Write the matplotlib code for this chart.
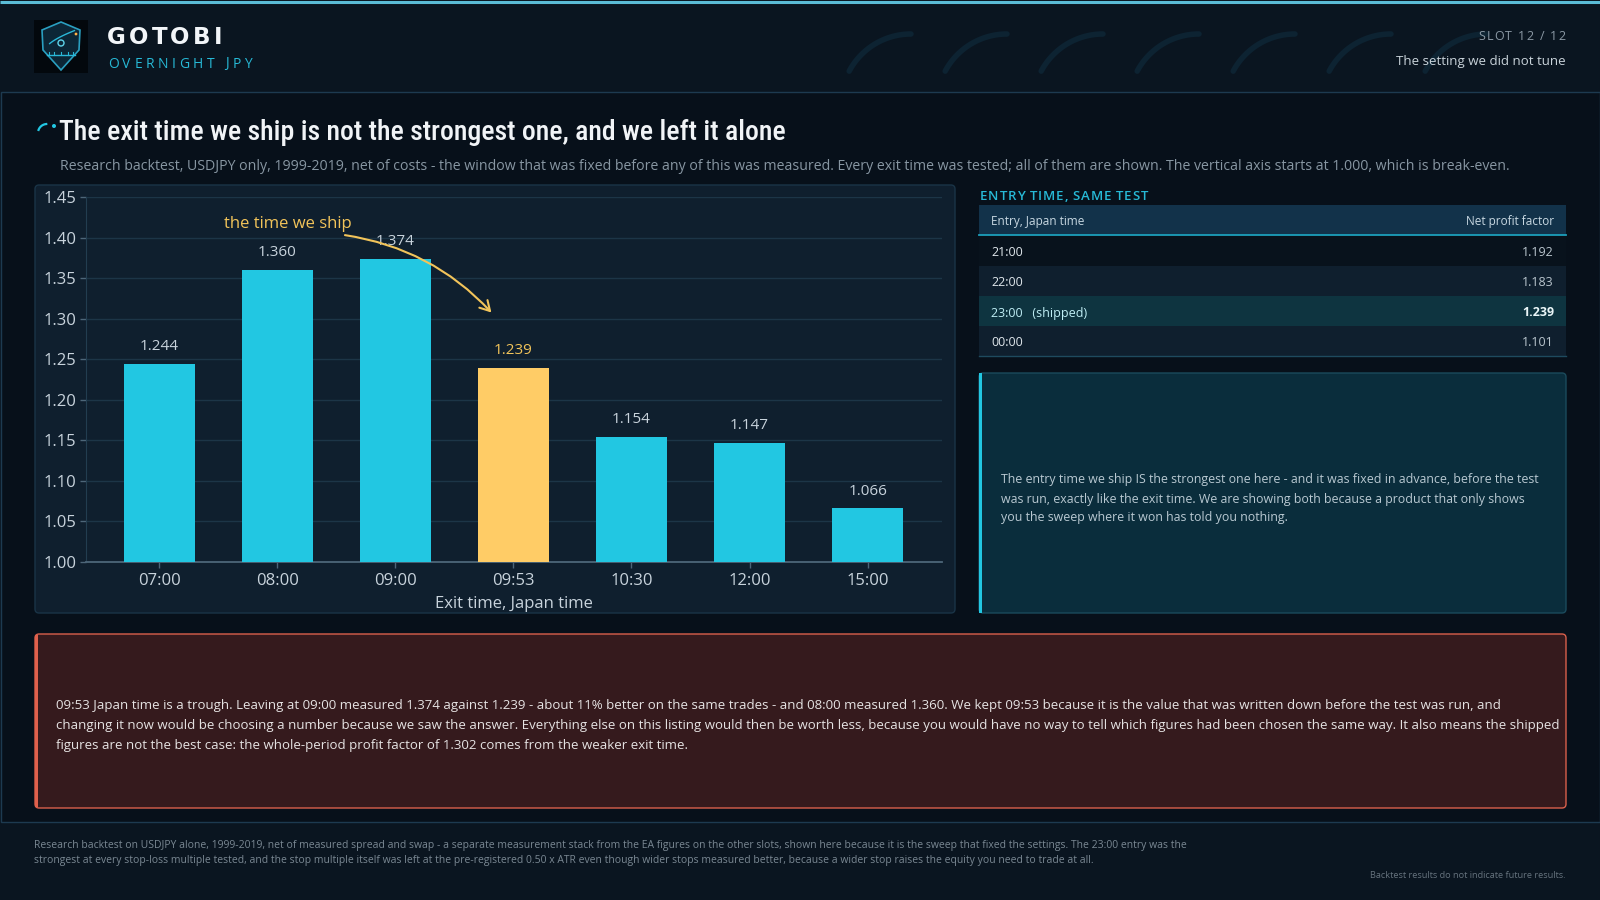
import numpy as np
import matplotlib
matplotlib.use("Agg")
import matplotlib.pyplot as plt
from matplotlib import font_manager as fm
from matplotlib.patches import Rectangle, FancyBboxPatch, FancyArrowPatch, Polygon, Circle

# ---------------- data ----------------
exit_times = ["07:00", "08:00", "09:00", "09:53", "10:30", "12:00", "15:00"]
exit_pf = [1.244, 1.360, 1.374, 1.239, 1.154, 1.147, 1.066]
shipped_exit = "09:53"

entry_times = ["21:00", "22:00", "23:00", "00:00"]
entry_pf = [1.192, 1.183, 1.239, 1.101]
shipped_entry = "23:00"

y_ticks = [1.00, 1.05, 1.10, 1.15, 1.20, 1.25, 1.30, 1.35, 1.40, 1.45]
y_tick_labels = ["1.00", "1.05", "1.10", "1.15", "1.20", "1.25", "1.30", "1.35", "1.40", "1.45"]

title = "The exit time we ship is not the strongest one, and we left it alone"
subtitle = ("Research backtest, USDJPY only, 1999-2019, net of costs - the window that was fixed before any of "
            "this was measured. Every exit time was tested; all of them are shown. The vertical axis starts at "
            "1.000, which is break-even.")
note_lines = [
    "The entry time we ship IS the strongest one here - and it was fixed in advance, before the test",
    "was run, exactly like the exit time. We are showing both because a product that only shows",
    "you the sweep where it won has told you nothing.",
]
warn_lines = [
    "09:53 Japan time is a trough. Leaving at 09:00 measured 1.374 against 1.239 - about 11% better on the same "
    "trades - and 08:00 measured 1.360. We kept 09:53 because it is the value that was written down before the test was run, and",
    "changing it now would be choosing a number because we saw the answer. Everything else on this listing would then be "
    "worth less, because you would have no way to tell which figures had been chosen the same way. It also means the shipped",
    "figures are not the best case: the whole-period profit factor of 1.302 comes from the weaker exit time.",
]
footer_lines = [
    "Research backtest on USDJPY alone, 1999-2019, net of measured spread and swap - a separate measurement stack from the EA "
    "figures on the other slots, shown here because it is the sweep that fixed the settings. The 23:00 entry was the",
    "strongest at every stop-loss multiple tested, and the stop multiple itself was left at the pre-registered 0.50 x ATR even "
    "though wider stops measured better, because a wider stop raises the equity you need to trade at all.",
]
disclaimer = "Backtest results do not indicate future results."

# ---------------- fonts ----------------
avail = {f.name for f in fm.fontManager.ttflist}
def pick(*names):
    for n in names:
        if n in avail:
            return n
    return "DejaVu Sans"

BODY = pick("Open Sans", "Noto Sans", "Lato", "DejaVu Sans")
COND = pick("Liberation Sans Narrow", "Roboto Condensed", "Open Sans Condensed",
            "Noto Sans Condensed", "DejaVu Sans Condensed", "Roboto")
BOLD = pick("DejaVu Sans", "Open Sans")
plt.rcParams["font.family"] = [BODY, "DejaVu Sans"]

# ---------------- colours ----------------
HEAD_BG = "#0a1520"
PANEL_BG = "#07101a"
CHART_BG = "#0f1f2e"
CYAN = "#22c7e2"
GOLD = "#ffcc66"
GOLD_TXT = "#f2c45a"
TXT = "#c8d3dc"
MUTED = "#8796a2"

W, H = 1600, 900
fig = plt.figure(figsize=(16, 9), dpi=100, facecolor=HEAD_BG)
bg = fig.add_axes([0, 0, 1, 1])
bg.set_xlim(0, W)
bg.set_ylim(H, 0)
bg.axis("off")
R = fig.canvas.get_renderer()


def fit(x, y, s, width, size0=10, **kw):
    t = bg.text(x, y, s, fontsize=size0, **kw)
    w = t.get_window_extent(R).width
    t.set_fontsize(size0 * width / w)
    return t


def spaced(x, y, s, width, size, ha="left", **kw):
    # draw characters one by one with letter spacing to reach the target width
    ts, ws = [], []
    for ch in s:
        t = bg.text(0, y, ch, fontsize=size, ha="left", **kw)
        ts.append(t)
        ws.append(t.get_window_extent(R).width if ch.strip() else size * 0.35)
    gap = (width - sum(ws)) / max(len(s) - 1, 1)
    x0 = x if ha == "left" else x - width
    for t, w in zip(ts, ws):
        t.set_x(x0)
        x0 += w + gap


# ---------------- header ----------------
bg.add_patch(Rectangle((0, 0), W, 92, fc=HEAD_BG, ec="none", zorder=0))
bg.plot([0, W], [1.5, 1.5], color="#5bbcd6", lw=2.2, zorder=3, solid_capstyle="butt")

# decorative arcs
t = np.linspace(np.radians(90), np.radians(152), 40)
for i in range(7):
    cx = 911 + i * 96
    bg.plot(cx + 70 * np.cos(t), 104 - 70 * np.sin(t), color="#0d2332", lw=4.0,
            solid_capstyle="round", zorder=1)

# logo
bg.add_patch(Rectangle((34, 20), 54, 53, fc="#03080d", ec="none", zorder=2))
bg.add_patch(Polygon([(42, 30), (61, 22), (80, 30), (79, 50), (61, 70), (43, 50)], closed=True,
                     fc="#0c2636", ec="#2a9fc0", lw=1.2, zorder=3))
tt = np.linspace(0.15, 0.95, 30)
bg.plot(45 + 31 * tt, 50 - 20 * tt ** 0.6, color="#2ab8d8", lw=1.0, zorder=4)
bg.add_patch(Circle((76, 34), 1.4, fc="#ffb347", ec="none", zorder=5))
bg.add_patch(Circle((61, 43), 3.0, fc="none", ec="#5fd4ea", lw=1.0, zorder=4))
bg.plot([47, 75], [55, 55], color="#2ab8d8", lw=1.0, zorder=4)
for xx in [49, 54, 61, 68, 73]:
    bg.plot([xx, xx], [52, 55], color="#2ab8d8", lw=0.8, zorder=4)

spaced(107, 37, "GOTOBI", 115, 16.5, color="#f2f5f8", fontweight="bold",
       family=[BOLD, "DejaVu Sans"], va="center", zorder=5)
spaced(108, 64, "OVERNIGHT JPY", 144, 10, color="#27b9d6", va="center", zorder=5)
spaced(1566, 37, "SLOT 12 / 12", 88, 9, ha="right", color="#8a98a4", va="center", zorder=5)
fit(1566, 62, "The setting we did not tune", 169, size0=10, color="#c9d3da", ha="right",
    va="center", zorder=5)

# ---------------- main panel ----------------
bg.add_patch(Rectangle((0.5, 92), W - 1, 730, fc=PANEL_BG, ec="#1d3a50", lw=1.0, zorder=0.5))

# title icon
ta = np.linspace(np.radians(95), np.radians(160), 20)
bg.plot(47 + 9 * np.cos(ta), 133 - 9 * np.sin(ta), color=CYAN, lw=1.6, zorder=3)
bg.add_patch(Circle((54, 126), 2.0, fc=CYAN, ec="none", zorder=3))

fit(59, 133, title, 727, size0=20, color="#f1f4f7", family=[COND, "DejaVu Sans"],
    fontweight="medium", va="center", zorder=3)
fit(60, 166, subtitle, 1447, size0=10, color=MUTED, va="center", zorder=3)

# chart panel
bg.add_patch(FancyBboxPatch((35, 185), 920, 428, boxstyle="round,pad=0,rounding_size=4",
                            fc=CHART_BG, ec="#1a3447", lw=1.0, zorder=1))

ax = fig.add_axes([86 / W, 1 - 562 / H, (942 - 86) / W, (562 - 197) / H])
ax.set_facecolor("none")
x = np.arange(len(exit_times))
colors = [GOLD if t_ == shipped_exit else CYAN for t_ in exit_times]
ax.bar(x, exit_pf, width=0.6, color=colors, zorder=3)
ax.set_xlim(-0.62, len(exit_times) - 0.37)
ax.set_ylim(y_ticks[0], y_ticks[-1])
ax.set_yticks(y_ticks)
ax.set_yticklabels(y_tick_labels)
ax.set_xticks(x)
ax.set_xticklabels(exit_times)
ax.yaxis.grid(True, color="#1c3547", lw=1.0, zorder=0)
ax.set_axisbelow(True)
for s in ["top", "right"]:
    ax.spines[s].set_visible(False)
ax.spines["left"].set_color("#223d50")
ax.spines["bottom"].set_color("#4d6679")
ax.spines["bottom"].set_linewidth(1.3)
ax.tick_params(axis="both", colors="#4d6679", labelcolor=TXT, labelsize=12, length=4, width=1)
ax.tick_params(axis="y", pad=3)
ax.tick_params(axis="x", pad=4)
ax.set_xlabel("Exit time, Japan time", color=TXT, fontsize=12, labelpad=5)

for xi, v, t_ in zip(x, exit_pf, exit_times):
    ax.annotate(f"{v:.3f}", (xi, v), xytext=(0, 7), textcoords="offset points",
                ha="center", va="bottom", fontsize=11,
                color=GOLD_TXT if t_ == shipped_exit else TXT, zorder=4)

ship_idx = exit_times.index(shipped_exit)
ax.text(ship_idx - 1.91, 1.417, "the time we ship", color=GOLD_TXT, fontsize=12,
        ha="center", va="center", zorder=5)
ax.add_patch(FancyArrowPatch((ship_idx - 1.45, 1.4035), (ship_idx - 0.17, 1.305),
                             connectionstyle="arc3,rad=-0.18", arrowstyle="->,head_length=7,head_width=4",
                             color=GOLD_TXT, lw=1.5, zorder=5))

# ---------------- entry table ----------------
spaced(980, 197, "ENTRY TIME, SAME TEST", 168, 9.5, color="#27b9d6", fontweight="semibold",
       va="center", zorder=3)
bg.add_patch(Rectangle((979, 205), 587, 30, fc="#12324a", ec="none", zorder=2))
bg.plot([979, 1566], [235, 235], color="#1c9fbb", lw=1.3, zorder=3)
bg.text(991, 222, "Entry, Japan time", color="#c8d8e2", fontsize=8.5, va="center", zorder=3)
bg.text(1554, 222, "Net profit factor", color="#c8d8e2", fontsize=8.5, va="center", ha="right", zorder=3)
row_bg = ["#08121c", "#0f1f2e"]
for i, (et, pf) in enumerate(zip(entry_times, entry_pf)):
    y0 = 236 + 30 * i
    shipped = et == shipped_entry
    fc = "#0e3440" if shipped else row_bg[i % 2]
    bg.add_patch(Rectangle((979, y0), 587, 30, fc=fc, ec="none", zorder=2))
    label = f"{et}   (shipped)" if shipped else et
    col = "#bfeef5" if shipped else "#dfe6eb"
    bg.text(991, y0 + 17, label, color=col, fontsize=9, va="center", zorder=3)
    bg.text(1554, y0 + 17, f"{pf:.3f}", color="#eaf6f8" if shipped else "#b9c5cd", fontsize=9,
            va="center", ha="right", fontweight="bold" if shipped else "normal", zorder=3)
bg.plot([979, 1566], [356, 356], color="#1e4a5e", lw=1.0, zorder=3)

# note box
bg.add_patch(FancyBboxPatch((979, 373), 587, 240, boxstyle="round,pad=0,rounding_size=4",
                            fc="#0a2d3c", ec="#1b4a5c", lw=1.0, zorder=1))
bg.add_patch(Rectangle((979, 373), 3, 240, fc=CYAN, ec="none", zorder=2))
t0 = fit(1001, 480, note_lines[0], 545, size0=9.5, color="#b9c9d2", va="center", zorder=3)
for k, ln in enumerate(note_lines[1:], start=1):
    bg.text(1001, 480 + 19 * k, ln, fontsize=t0.get_fontsize(), color="#b9c9d2", va="center", zorder=3)

# warning box
bg.add_patch(FancyBboxPatch((35, 634), 1531, 174, boxstyle="round,pad=0,rounding_size=4",
                            fc="#351a1d", ec="#d9604c", lw=1.0, zorder=1))
bg.add_patch(Rectangle((35, 635), 3, 172, fc="#e0604c", ec="none", zorder=2))
t1 = fit(56, 706, warn_lines[0], 1449, size0=9.5, color="#e6e3e3", va="center", zorder=3)
for k, ln in enumerate(warn_lines[1:], start=1):
    bg.text(56, 706 + 20 * k, ln, fontsize=t1.get_fontsize(), color="#e6e3e3", va="center", zorder=3)

# ---------------- footer ----------------
t2 = fit(34, 845.5, footer_lines[0], 1155, size0=7.5, color="#7a8893", va="center", zorder=3)
bg.text(34, 861, footer_lines[1], fontsize=t2.get_fontsize(), color="#7a8893", va="center", zorder=3)
fit(1566, 876, disclaimer, 197, size0=7, color="#66737e", ha="right", va="center", zorder=3)

fig.savefig("out.png", dpi=100, facecolor=HEAD_BG)
